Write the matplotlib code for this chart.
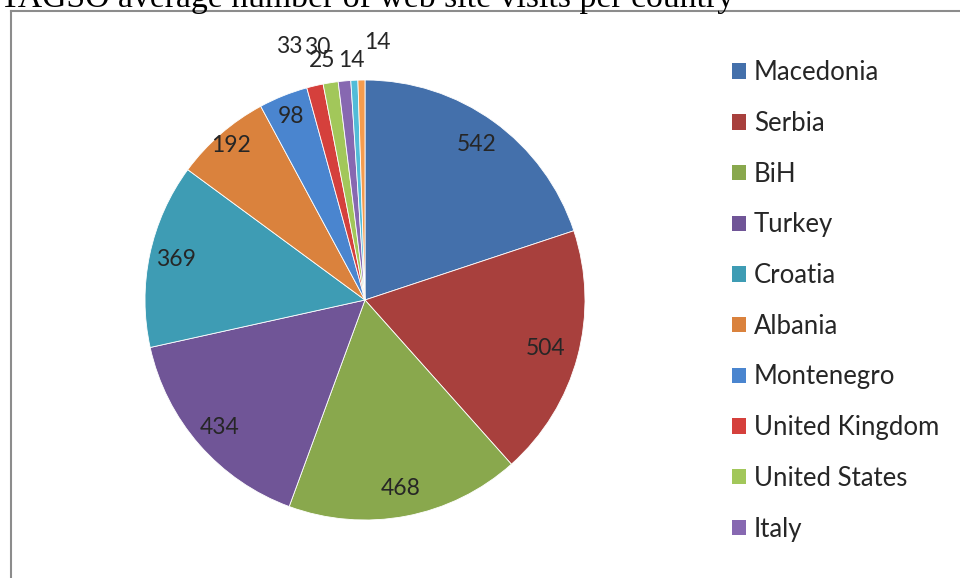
import numpy as np
import matplotlib
matplotlib.use("Agg")
import matplotlib.pyplot as plt
from matplotlib.lines import Line2D

countries = ["Macedonia", "Serbia", "BiH", "Turkey", "Croatia", "Albania",
             "Montenegro", "United Kingdom", "United States", "Italy",
             "Other 1", "Other 2"]
visits = [542, 504, 468, 434, 369, 192, 98, 33, 30, 25, 14, 14]
colors = ["#4470AB", "#A8403D", "#89A84D", "#705597", "#3E9CB4", "#DA823D",
          "#4A85CF", "#D5403C", "#A2C75A", "#8768B1", "#52BCD8", "#F59C4E"]
# radial position of each value label (fraction of radius)
label_r = [0.87, 0.85, 0.87, 0.88, 0.88, 0.93, 0.9, 1.15, 1.15, 1.15, 1.15, 1.15]
# nudges (pixels) for the crowded labels above the pie
label_dx = [0, 0, 0, 0, 0, 0, 0, -18, -8, -19, -1, 16]
label_dy = [0, 0, 0, 0, 0, 0, 0, 7, 3, -12, -13, 5]

plt.rcParams["font.family"] = ["Lato", "DejaVu Sans"]

fig = plt.figure(figsize=(9.6, 5.78), dpi=100)

# chart frame: only top and left edges show, the rest runs off the image
fx, fy = 11 / 960, 1 - 11 / 578
fig.add_artist(Line2D([fx, 1.0], [fy, fy], transform=fig.transFigure,
                      color="#8c8c8c", linewidth=1.5))
fig.add_artist(Line2D([fx, fx], [0.0, fy], transform=fig.transFigure,
                      color="#8c8c8c", linewidth=1.5))

fig.text(0.0, 1 - 7 / 578, "TAGSO average number of web site visits per country",
         family=["Liberation Serif", "DejaVu Serif"], fontsize=24.3,
         va="baseline", ha="left")

ax = fig.add_axes([145 / 960, 58 / 578, 440 / 960, 440 / 578])
wedges, _ = ax.pie(visits, colors=colors, startangle=90, counterclock=False,
                   radius=1.0, wedgeprops=dict(linewidth=0.6, edgecolor="white"))
ax.set_xlim(-1, 1)
ax.set_ylim(-1, 1)
ax.set_aspect("equal")

total = sum(visits)
cum = np.cumsum([0] + visits)
for i, v in enumerate(visits):
    mid = (cum[i] + v / 2) / total * 2 * np.pi
    x = np.sin(mid) * label_r[i]
    y = np.cos(mid) * label_r[i]
    ax.annotate(str(v), (x, y), xytext=(label_dx[i], label_dy[i]),
                textcoords="offset pixels", ha="center", va="center",
                fontsize=16.5, color="#262626", annotation_clip=False)

leg = fig.legend(wedges[:10], countries[:10], loc="upper left",
                 bbox_to_anchor=(722 / 960, 1 - 50 / 578), frameon=False,
                 fontsize=18.5, handlelength=0.55, handleheight=0.55,
                 handletextpad=0.3, labelspacing=1.0, borderaxespad=0)
for h in leg.legend_handles:
    h.set_linewidth(0)
for t in leg.get_texts():
    t.set_color("#262626")

fig.savefig("out.png", dpi=100)
